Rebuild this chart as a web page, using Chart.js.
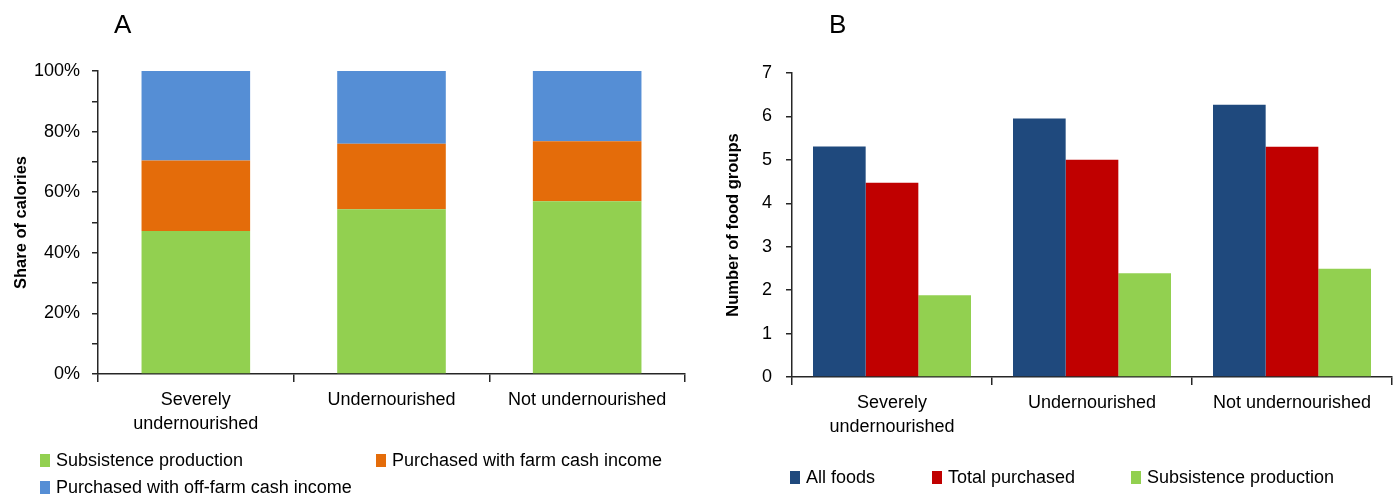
<!DOCTYPE html>
<html>
<head>
<meta charset="utf-8">
<script src="https://cdn.jsdelivr.net/npm/chart.js@4"></script>
<style>
  body { margin: 0; background: #fff; font-family: "Liberation Sans", Arial, sans-serif; }
  #wrap { position: relative; width: 1396px; height: 496px; }
  .panel { position: absolute; top: 0; }
  .letter { position: absolute; font-size: 26px; color: #000; }
  .legend { position: absolute; font-size: 18px; color: #000; }
  .legend .item { position: absolute; white-space: nowrap; display: flex; align-items: center; }
  .legend .box { display: inline-block; width: 10px; height: 13px; margin-right: 6px; }
</style>
</head>
<body>
<div id="wrap">
  <canvas id="chartA" class="panel" style="left:0" width="698" height="496"></canvas>
  <canvas id="chartB" class="panel" style="left:700px" width="696" height="496"></canvas>
  <div class="letter" style="left:114px;top:9px">A</div>
  <div class="letter" style="left:829px;top:9px">B</div>
  <div id="legendA" class="legend"></div>
  <div id="legendB" class="legend"></div>
</div>
<script>
const categories = [["Severely", "undernourished"], "Undernourished", "Not undernourished"];

// panel A: share of calories (%)
const subsistenceShare = [47.2, 54.4, 57.0];
const farmCashShare = [23.3, 21.6, 19.8];
const offFarmShare = [29.5, 24.0, 23.2];

// panel B: number of food groups
const allFoods = [5.31, 5.95, 6.27];
const totalPurchased = [4.47, 5.0, 5.3];
const subsistenceGroups = [1.88, 2.39, 2.49];

const tickFont = { family: "Liberation Sans", size: 18, lineHeight: 1.33 };
const titleFont = { family: "Liberation Sans", size: 16.5, weight: "bold" };
const axisColor = "#262626";

function xAxis(height) {
  return {
    offset: true,
    border: { color: axisColor, width: 1.5 },
    grid: { offset: true, drawOnChartArea: false, tickLength: 8, color: axisColor, lineWidth: 1.5 },
    ticks: { color: "#000", font: tickFont, padding: 6, maxRotation: 0 },
    afterFit: (s) => { s.height = height; },
  };
}

const chartA = new Chart(document.getElementById("chartA"), {
  type: "bar",
  data: {
    labels: categories,
    datasets: [
      { label: "Subsistence production", data: subsistenceShare, backgroundColor: "#92D050" },
      { label: "Purchased with farm cash income", data: farmCashShare, backgroundColor: "#E46C0A" },
      { label: "Purchased with off-farm cash income", data: offFarmShare, backgroundColor: "#558ED5" },
    ],
  },
  options: {
    responsive: false,
    animation: false,
    layout: { padding: { top: 71, right: 13, left: 0, bottom: 0 } },
    plugins: { legend: { display: false }, tooltip: { enabled: false } },
    datasets: { bar: { categoryPercentage: 0.555, barPercentage: 1 } },
    scales: {
      x: { ...xAxis(122), stacked: true },
      y: {
        stacked: true,
        min: 0,
        max: 100,
        border: { color: axisColor, width: 1.5 },
        grid: { drawOnChartArea: false, tickLength: 6, color: axisColor, lineWidth: 1.5 },
        ticks: {
          stepSize: 10,
          color: "#000",
          font: tickFont,
          padding: 12,
          callback: (v) => (v % 20 === 0 ? v + "%" : ""),
        },
        title: { display: true, text: "Share of calories", color: "#000", font: titleFont, padding: { top: 12, bottom: 0 } },
        afterFit: (s) => { s.width = 98; },
      },
    },
  },
});

const chartB = new Chart(document.getElementById("chartB"), {
  type: "bar",
  data: {
    labels: categories,
    datasets: [
      { label: "All foods", data: allFoods, backgroundColor: "#1F497D" },
      { label: "Total purchased", data: totalPurchased, backgroundColor: "#C00000" },
      { label: "Subsistence production", data: subsistenceGroups, backgroundColor: "#92D050" },
    ],
  },
  options: {
    responsive: false,
    animation: false,
    layout: { padding: { top: 73, right: 4, left: 0, bottom: 0 } },
    plugins: { legend: { display: false }, tooltip: { enabled: false } },
    datasets: { bar: { categoryPercentage: 0.79, barPercentage: 1 } },
    scales: {
      x: xAxis(119),
      y: {
        min: 0,
        max: 7,
        border: { color: axisColor, width: 1.5 },
        grid: { drawOnChartArea: false, tickLength: 6, color: axisColor, lineWidth: 1.5 },
        ticks: { stepSize: 1, color: "#000", font: tickFont, padding: 14 },
        title: { display: true, text: "Number of food groups", color: "#000", font: titleFont, padding: { top: 24, bottom: 0 } },
        afterFit: (s) => { s.width = 92; },
      },
    },
  },
});

// legends built from the chart datasets, placed like the original
function buildLegend(chart, el, spots) {
  chart.data.datasets.forEach((ds, i) => {
    const item = document.createElement("div");
    item.className = "item";
    item.style.left = spots[i][0] + "px";
    item.style.top = spots[i][1] + "px";
    item.innerHTML = '<span class="box" style="background:' + ds.backgroundColor + '"></span>' + ds.label;
    el.appendChild(item);
  });
}
buildLegend(chartA, document.getElementById("legendA"), [[40, 450], [376, 450], [40, 477]]);
buildLegend(chartB, document.getElementById("legendB"), [[790, 467], [932, 467], [1131, 467]]);
</script>
</body>
</html>
